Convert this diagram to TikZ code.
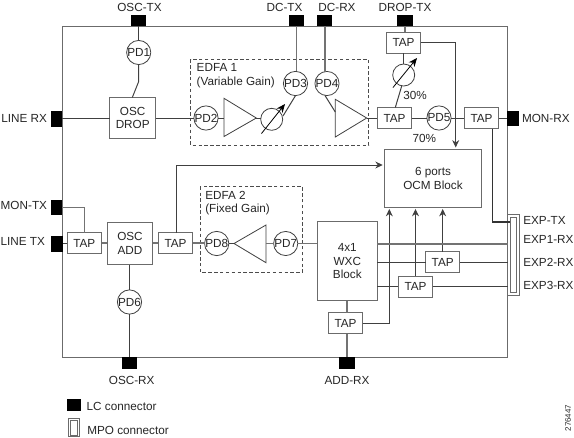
\documentclass[tikz,border=0pt]{standalone}
\usepackage{fontspec}
\setmainfont{Liberation Sans}
\usetikzlibrary{arrows.meta,calc}
\definecolor{linec}{gray}{0.25}
\definecolor{boxc}{gray}{0.42}
\definecolor{thickc}{gray}{0.45}
\tikzset{
  lab/.style={inner sep=0pt,outer sep=0pt,font=\fontsize{8.8}{10.3}\selectfont,align=center,text=black!85},
  box/.style n args={2}{lab,draw=boxc,line width=0.8pt,fill=white,minimum width=#1*0.75pt,minimum height=#2*0.75pt},
  tapbox/.style={box={34.4}{21}},
  pd/.style={lab,circle,draw=linec,line width=0.6pt,fill=white,minimum size=18pt},
  atten/.style={circle,draw=linec,line width=0.6pt,minimum size=16.5pt,inner sep=0pt,outer sep=0pt},
  lcbase/.style={fill=black,draw=none,inner sep=0pt,outer sep=0pt},
  lch/.style={lcbase,minimum width=8.8pt,minimum height=11.3pt},
  lcv/.style={lcbase,minimum width=11.3pt,minimum height=8.6pt},
  wire/.style={draw=linec,line width=0.75pt},
  fatwire/.style={draw=thickc,line width=1.2pt},
  arrowwire/.style={wire,-{Stealth[length=5.5pt,width=5.2pt]},shorten >=1.2pt},
  dashbox/.style={draw=black!70,line width=0.5pt,dash pattern=on 2.6pt off 1.8pt},
  amp/.style={draw=linec,line width=0.6pt,fill=white},
  varrow/.style={draw=black,line width=0.6pt,-{Stealth[length=6.5pt,width=5.5pt]}},
  outer/.style={draw=boxc,line width=0.9pt}
}
\begin{document}
\begin{tikzpicture}[x=0.75pt,y=-0.75pt]
\useasboundingbox (0,0) rectangle (574,437);
% enclosure and dashed groups
\draw[outer] (62.5,26.5) rectangle (507.5,357.3);
\draw[dashbox] (190.7,59.3) rectangle (368.7,145.3);
\draw[dashbox] (200,186.7) rectangle (302.7,272.3);
% LC connectors
\node[lcv] (osctx) at (138.5,20.7) {};
\node[lcv] (dctx) at (296.5,20.7) {};
\node[lcv] (dcrx) at (324.8,20.7) {};
\node[lcv] (droptx) at (405,20.7) {};
\node[lch] (linerx) at (56.5,119) {};
\node[lch] (montx) at (56.5,207.5) {};
\node[lch] (linetx) at (57,244) {};
\node[lch] (monrx) at (513,118.5) {};
\node[lcv] (oscrx) at (129.5,363) {};
\node[lcv] (addrx) at (347,363) {};
% process boxes
\node[box={46}{41}] (oscdrop) at (132.7,118) {OSC\\DROP};
\node[box={45.4}{42}] (oscadd) at (130,243.5) {OSC\\ADD};
\node[tapbox] (tapa) at (394.5,118) {TAP};
\node[tapbox] (tapb) at (403.5,42.8) {TAP};
\node[tapbox] (tapc) at (481.5,118) {TAP};
\node[tapbox] (tapd) at (84.3,243) {TAP};
\node[tapbox] (tape) at (175.5,243) {TAP};
\node[tapbox] (tapf) at (345.5,323.3) {TAP};
\node[tapbox] (tapg) at (415.5,286.6) {TAP};
\node[tapbox] (taph) at (442.7,262) {TAP};
\node[box={97.4}{58.3}] (ocm) at (433,178.2) {6 ports\\OCM Block};
\node[box={60}{79}] (wxc) at (347.3,261.2) {4x1\\WXC\\Block};
% MPO connector
\node[box={12}{81},fill=white] (mpo) at (513.7,254.8) {};
\node[draw=boxc,line width=0.7pt,fill=white,inner sep=0pt,minimum width=4.8pt,minimum height=56.5pt] (mpoin) at (513.5,255) {};
% photodiodes
\node[pd] (pda) at (138.7,52.5) {PD1};
\node[pd] (pdb) at (206,118) {PD2};
\node[pd] (pdc) at (295.5,83.5) {PD3};
\node[pd] (pdd) at (327,83.5) {PD4};
\node[pd] (pde) at (439,118) {PD5};
\node[pd] (pdf) at (129.5,302) {PD6};
\node[pd] (pdg) at (285.7,243.5) {PD7};
\node[pd] (pdh) at (216.7,243.5) {PD8};
% amplifiers
\draw[amp] (224,98.3) -- (224,136.5) -- (256.3,118) -- cycle;
\draw[amp] (335.3,99.3) -- (335.3,137) -- (366.7,118) -- cycle;
\draw[amp] (266,225) -- (266,262.7) -- (234,243.5) -- cycle;
\coordinate (ampain) at (224,118);
\coordinate (ampaout) at (256.3,118);
\coordinate (ampbin) at (335.3,112);
\coordinate (ampbout) at (366.7,118);
\coordinate (ampcin) at (266,243.5);
\coordinate (ampcout) at (234,243.5);
% variable attenuators
\node[atten] (vara) at (271.7,119.3) {};
\node[atten] (varb) at (403.7,75) {};
\coordinate (varastart) at (261.5,133.5);
\coordinate (varaend) at (285,104);
\coordinate (varbstart) at (393,87.5);
\coordinate (varbend) at (417,58);
\draw[varrow] (varastart) -- (varaend);
\draw[varrow] (varbstart) -- (varbend);
% connectors: top row
\draw[wire] (osctx.south) -- (osctx.south |- pda.north);
\coordinate (oscbend) at (138.7,81.5);
\coordinate (oscentry) at (132.3,97.5);
\draw[wire] (pda.south) -- (oscbend) -- (oscentry);
\draw[wire] (linerx.east |- oscdrop.west) -- (oscdrop.west);
\draw[wire] (oscdrop.east) -- (pdb.west);
\draw[wire] (pdb.east) -- (ampain);
\draw[wire] (ampaout) -- (vara.west |- ampaout);
\coordinate (varaexit) at (283,116);
\draw[wire] (pdc.south) -- (varaexit);
\draw[fatwire] (dctx.south) -- (dctx.south |- pdc.north);
\draw[fatwire] (dcrx.south) -- (dcrx.south |- pdd.100);
\draw[wire] (pdd.260) -- (ampbin);
\draw[wire] (ampbout) -- (tapa.west);
\draw[wire] (tapa.east) -- (pde.west);
\draw[wire] (pde.east) -- (tapc.west);
\draw[wire] (tapc.east) -- (monrx.west |- tapc.east);
\coordinate (tapaup) at (395.3,107.5);
\coordinate (varbin) at (401.7,86);
\draw[wire] (tapaup) -- (varbin);
\draw[wire] (varb.north) -- (varb.north |- tapb.south);
\draw[fatwire] (droptx.south) -- (droptx.south |- tapb.north);
\coordinate (tapbbend) at (455.7,42.8);
\draw[arrowwire] (tapb.east) -- (tapbbend) -- (tapbbend |- ocm.north);
% lower rows
\draw[fatwire] (montx.east) -- (montx.east -| tapd.north) -- (tapd.north);
\draw[wire] (linetx.east |- tapd.west) -- (tapd.west);
\draw[fatwire] (tapd.east) -- (tapd.east -| oscadd.west);
\draw[fatwire] (oscadd.east |- tape.west) -- (tape.west);
\draw[fatwire] (tape.east) -- (tape.east -| pdh.west);
\draw[wire] (pdh.east) -- (ampcout);
\draw[fatwire] (ampcin) -- (pdg.west);
\draw[fatwire] (pdg.east) -- (pdg.east -| wxc.west);
\draw[wire] (oscadd.south -| pdf.north) -- (pdf.north);
\draw[wire] (pdf.south) -- (oscrx.north);
\coordinate (tapeup) at (176.3,232.5);
\coordinate (ocmleft) at (176.3,165);
\draw[arrowwire] (tapeup) -- (ocmleft) -- (ocmleft -| ocm.west);
\draw[fatwire] (wxc.south -| addrx.north) -- (tapf.north -| addrx.north);
\draw[fatwire] (tapf.south -| addrx.north) -- (addrx.north);
\coordinate (tapfbend) at (389.3,323.3);
\draw[arrowwire] (tapf.east) -- (tapfbend) -- (tapfbend |- ocm.south);
\draw[arrowwire] (tapg.north) -- (tapg.north |- ocm.south);
\draw[arrowwire] (taph.north) -- (taph.north |- ocm.south);
\coordinate (expa) at (377.3,243.5);
\draw[draw=thickc,line width=1.5pt] (expa) -- (expa -| mpo.west);
\draw[wire] (wxc.east |- taph.west) -- (taph.west);
\draw[wire] (taph.east) -- (taph.east -| mpo.west);
\draw[wire] (wxc.east |- tapg.west) -- (tapg.west);
\draw[wire] (tapg.east) -- (tapg.east -| mpo.west);
\coordinate (tapcdown) at (492.7,128.5);
\coordinate (mpobend) at (492.7,222);
\draw[line width=0.9pt,draw=black!80] (tapcdown) -- (mpobend) -- (mpobend -| mpoin.west);
% labels
\node[lab] (lbosctx) at (139.5,7) {OSC-TX};
\node[lab] (lbdctx) at (284.5,7) {DC-TX};
\node[lab] (lbdcrx) at (337,7) {DC-RX};
\node[lab] (lbdrop) at (405,7) {DROP-TX};
\node[lab,anchor=east] (lblrx) at (47,118) {LINE RX};
\node[lab,anchor=east] (lbmtx) at (47,205) {MON-TX};
\node[lab,anchor=east] (lbltx) at (45,241.7) {LINE TX};
\node[lab,anchor=west] (lbmrx) at (522,118) {MON-RX};
\node[lab] (lboscrx) at (131.7,380.7) {OSC-RX};
\node[lab] (lbaddrx) at (347,380.7) {ADD-RX};
\node[lab,anchor=west] (lbe0) at (523.3,220.7) {EXP-TX};
\node[lab,anchor=west] (lbe1) at (523.3,239.7) {EXP1-RX};
\node[lab,anchor=west] (lbe2) at (523.3,262.7) {EXP2-RX};
\node[lab,anchor=west] (lbe3) at (523.3,285.7) {EXP3-RX};
\node[lab] (lb30) at (415,95) {30\%};
\node[lab] (lb70) at (424.3,138) {70\%};
\node[lab,anchor=north west,align=left] (lbedfa1) at (196.7,63.5) {EDFA 1\\(Variable Gain)};
\node[lab,anchor=north west,align=left] (lbedfa2) at (205.3,191) {EDFA 2\\(Fixed Gain)};
% legend
\node[lcbase,minimum width=11pt,minimum height=9pt] (leglc) at (74,404.7) {};
\node[draw=boxc,line width=0.8pt,fill=white,inner sep=0pt,minimum width=8.8pt,minimum height=14pt] (legmpo) at (74,427.5) {};
\node[draw=boxc,line width=0.5pt,inner sep=0pt,minimum width=5pt,minimum height=11pt] (legmpoin) at (74,427.5) {};
\node[lab,anchor=west] (lblc) at (86.7,406) {LC connector};
\node[lab,anchor=west] (lbmpo) at (87.3,430) {MPO connector};
\node[lab,rotate=90,font=\fontsize{6}{7}\selectfont] (lbid) at (568,418) {276447};
\end{tikzpicture}
\end{document}
